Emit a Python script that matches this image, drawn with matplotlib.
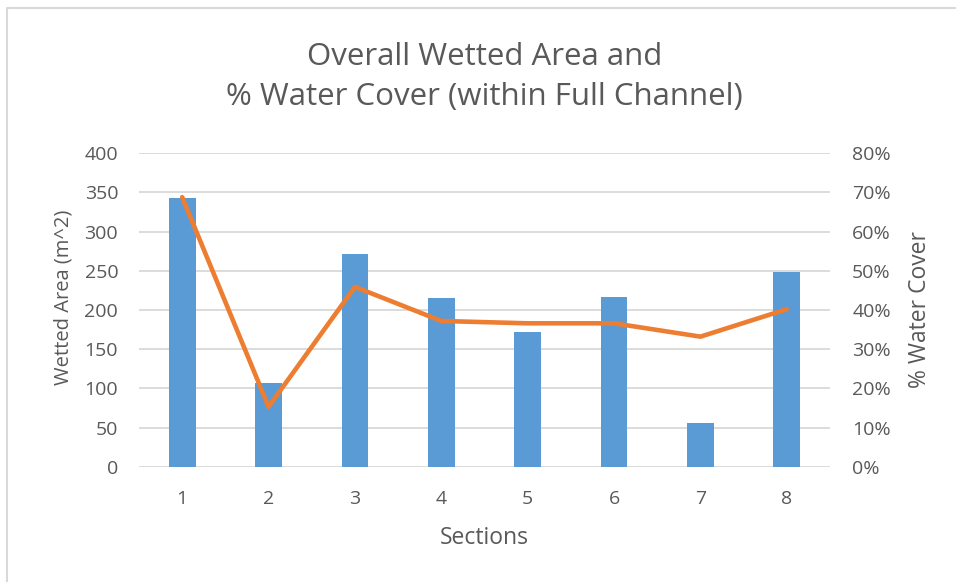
import matplotlib
matplotlib.use("Agg")
import matplotlib.pyplot as plt
from matplotlib.lines import Line2D
from matplotlib.ticker import FuncFormatter

# Data
sections = [1, 2, 3, 4, 5, 6, 7, 8]
wetted_area = [343, 107, 272, 215, 172, 217, 56, 249]          # m^2
water_cover = [0.688, 0.153, 0.459, 0.372, 0.366, 0.366, 0.332, 0.402]  # fraction

left_ticks = [0, 50, 100, 150, 200, 250, 300, 350, 400]
right_ticks = [0, 0.1, 0.2, 0.3, 0.4, 0.5, 0.6, 0.7, 0.8]

TEXT = "#595959"
GRID = "#d9d9d9"
BAR = "#5B9BD5"
LINE = "#ED7D31"
FONT = ["Open Sans", "DejaVu Sans"]

plt.rcParams["font.family"] = FONT

W, H = 956, 582
fig = plt.figure(figsize=(W / 100, H / 100), dpi=100)
fig.patch.set_facecolor("white")

ax = fig.add_axes([139 / W, 1 - 466.7 / H, 691 / W, 313.4 / H])
ax2 = ax.twinx()

ax.bar(sections, wetted_area, width=0.31, color=BAR, zorder=2)
ax.set_ylim(0, 400)
ax.set_xlim(0.5, 8.5)
ax.set_yticks(left_ticks)
ax.set_xticks(sections)
ax.set_xticklabels([str(s) for s in sections])
ax.yaxis.grid(True, color=GRID, linewidth=1.3, zorder=0)
ax.set_axisbelow(True)

ax2.plot(sections, water_cover, color=LINE, linewidth=3.3,
         solid_capstyle="round", solid_joinstyle="round", zorder=3)
ax2.set_ylim(0, 0.8)
ax2.set_yticks(right_ticks)
ax2.yaxis.set_major_formatter(FuncFormatter(lambda v, _: f"{v * 100:.0f}%"))

for a in (ax, ax2):
    for s in a.spines.values():
        s.set_visible(False)
    a.tick_params(length=0, colors=TEXT, labelsize=14)

ax.tick_params(axis="y", pad=15)
ax.tick_params(axis="x", pad=17)
ax2.tick_params(axis="y", pad=16)

# Title
cx = 484.5 / W
fig.text(cx, 1 - 65 / H, "Overall Wetted Area and", ha="center", va="baseline",
         fontsize=22.5, color=TEXT)
fig.text(cx, 1 - 105 / H, "% Water Cover (within Full Channel)", ha="center",
         va="baseline", fontsize=22.5, color=TEXT)

# Axis titles
fig.text(63 / W, 1 - 297 / H, "Wetted Area (m^2)", rotation=90, ha="center",
         va="center", fontsize=14.5, color=TEXT)
fig.text(920 / W, 1 - 309 / H, "% Water Cover", rotation=90, ha="center",
         va="center", fontsize=16.5, color=TEXT)
fig.text(cx, 1 - 538 / H, "Sections", ha="center", va="center",
         fontsize=16.5, color=TEXT)

# Chart area border
x0, y0 = 7 / W, 1 - 8 / H
fig.add_artist(Line2D([x0, x0, 1.0], [0.0, y0, y0], transform=fig.transFigure,
                      color=GRID, linewidth=1.5))

fig.savefig("out.png", dpi=100, facecolor="white")
